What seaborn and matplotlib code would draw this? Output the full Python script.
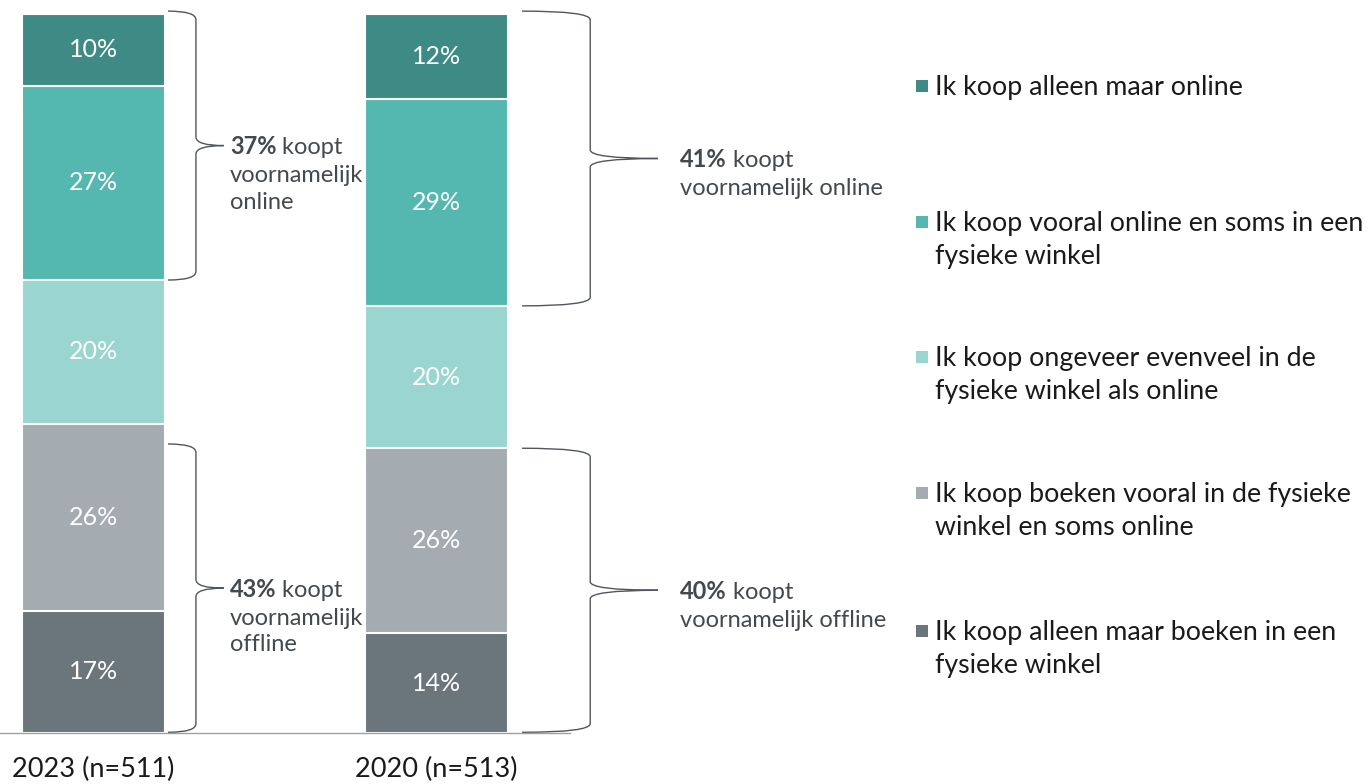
import numpy as np
import pandas as pd

import matplotlib.pyplot as plt
import seaborn as sns

from matplotlib.path import Path
from matplotlib.patches import PathPatch, Rectangle


# data (segments from bottom to top)
jaren = ["2023 (n=511)", "2020 (n=513)"]

antwoorden = [
    "Ik koop alleen maar boeken in een\nfysieke winkel",
    "Ik koop boeken vooral in de fysieke\nwinkel en soms online",
    "Ik koop ongeveer evenveel in de\nfysieke winkel als online",
    "Ik koop vooral online en soms in een\nfysieke winkel",
    "Ik koop alleen maar online",
]

waarden_2023 = [17, 26, 20, 27, 10]
waarden_2020 = [14, 26, 20, 29, 12]

kleuren = ["#6b767c", "#a4abb1", "#9bd5d0", "#55b8b0", "#3d8b84"]

# groups for the braces: (bar index, segment indices, closing text)
groepen = [
    (0, [3, 4], "voornamelijk\nonline"),
    (0, [0, 1], "voornamelijk\noffline"),
    (1, [3, 4], "voornamelijk online"),
    (1, [0, 1], "voornamelijk offline"),
]


W, H = 1369, 784


def fx(px):
    return px / W


def fy(py):
    return 1 - py / H


sns.set_style("white")
plt.rcParams["font.family"] = ["Lato", "DejaVu Sans"]

tekst_grijs = "#44494e"
tekst_zwart = "#1a1a1a"

waarden = np.array([waarden_2023, waarden_2020], dtype=float)
genorm = waarden / waarden.sum(axis=1, keepdims=True) * 100
cum = genorm.cumsum(axis=1)

fig = plt.figure(figsize=(W / 100, H / 100), dpi=100)
ax = fig.add_axes([0, fy(733), fx(570), (733 - 14) / H])

# stacked bars: tallest cumulative bar first
for i in reversed(range(len(antwoorden))):
    sns.barplot(
        x=jaren,
        y=cum[:, i],
        order=jaren,
        color=kleuren[i],
        saturation=1,
        width=0.4175,
        errorbar=None,
        edgecolor="white",
        linewidth=1.5,
        ax=ax,
    )

for j in range(len(jaren)):
    for i in range(len(antwoorden)):
        ax.text(
            j,
            cum[j, i] - genorm[j, i] / 2,
            f"{int(waarden[j, i])}%",
            ha="center",
            va="center",
            color="white",
            fontsize=18,
        )

ax.set_xlim(-0.273, 1.391)
ax.set_ylim(0, 100)
ax.set_yticks([])
ax.set_xlabel("")
ax.set_ylabel("")
sns.despine(ax=ax, left=True)
ax.spines["bottom"].set_color("#a0a0a0")
ax.spines["bottom"].set_linewidth(1)
ax.tick_params(axis="x", length=0, pad=17, labelsize=19.5, labelcolor=tekst_zwart)


# curly braces
brace_vorm = {0: (0.2175, 0.299, 0.38, 4.5), 1: (0.251, 0.45, 0.648, 16)}
brace_inkort = {(0, 0): 2.8}


def brace(xc, y0, y1, x_start, x_mid, x_tip, r=1.2):
    ym = (y0 + y1) / 2
    verts = [
        (xc + x_start, y1),
        (xc + x_mid, y1), (xc + x_mid, y1 - r),
        (xc + x_mid, ym + r),
        (xc + x_mid, ym), (xc + x_tip, ym),
        (xc + x_mid, ym), (xc + x_mid, ym - r),
        (xc + x_mid, y0 + r),
        (xc + x_mid, y0), (xc + x_start, y0),
    ]
    codes = [
        Path.MOVETO,
        Path.CURVE3, Path.CURVE3,
        Path.LINETO,
        Path.CURVE3, Path.CURVE3,
        Path.CURVE3, Path.CURVE3,
        Path.LINETO,
        Path.CURVE3, Path.CURVE3,
    ]
    patch = PathPatch(
        Path(verts, codes),
        facecolor="none",
        edgecolor="#50565b",
        linewidth=1.0,
        clip_on=False,
    )
    ax.add_patch(patch)
    return xc + x_tip, ym


for j, segs, rest in groepen:
    lo = min(segs)
    hi = max(segs)
    y0 = cum[j, lo] - genorm[j, lo]
    y1 = cum[j, hi]
    y0 = y0 + 0.1 if lo == 0 else y0
    y1 = y1 - brace_inkort.get((j, lo), 0) + (0.4 if hi == len(antwoorden) - 1 else 0)
    x_start, x_mid, x_tip, dx = brace_vorm[j]
    tx, ty = brace(j, y0, y1, x_start, x_mid, x_tip)

    pct = int(sum(waarden[j, s] for s in segs))

    t1 = ax.annotate(
        f"{pct}%",
        xy=(tx, ty),
        xytext=(dx, -1),
        textcoords="offset points",
        ha="left",
        va="center",
        fontsize=17,
        fontweight="bold",
        color=tekst_grijs,
        annotation_clip=False,
    )
    ax.annotate(
        " koopt",
        xy=(1, 0),
        xycoords=t1,
        ha="left",
        va="bottom",
        fontsize=17,
        color=tekst_grijs,
    )
    ax.annotate(
        rest,
        xy=(0, 0),
        xycoords=t1,
        xytext=(0, -5),
        textcoords="offset points",
        ha="left",
        va="top",
        fontsize=17,
        linespacing=1.3,
        color=tekst_grijs,
    )


# legend, top entry first
legenda_y = [86, 222, 357, 493, 631]

for k, i in enumerate(reversed(range(len(antwoorden)))):
    yc = legenda_y[k]
    fig.add_artist(
        Rectangle(
            (fx(916), fy(yc + 6)),
            fx(12),
            12 / H,
            transform=fig.transFigure,
            facecolor=kleuren[i],
            edgecolor="none",
        )
    )
    fig.text(
        fx(935),
        fy(yc - 11),
        antwoorden[i],
        ha="left",
        va="top",
        fontsize=19.3,
        linespacing=1.38,
        color=tekst_zwart,
    )

fig.savefig("out.png", dpi=100)
